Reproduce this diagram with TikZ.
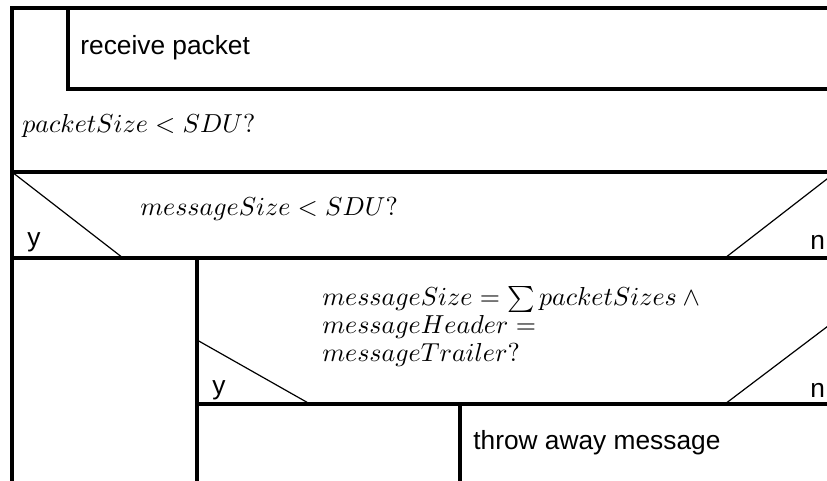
\documentclass[tikz,border=0pt]{standalone}
\usepackage[no-math]{fontspec}
\usepackage{graphicx}
\setmainfont{Liberation Sans}
% conditions: 10pt math design, enlarged
\newcommand{\condtext}[1]{\scalebox{1.3}{$#1$}}
\begin{document}
\begin{tikzpicture}[x=0.5pt,y=-0.5pt,
  frame/.style={line width=1.7pt},
  diag/.style={line width=0.6pt},
  lbl/.style={anchor=base west, inner sep=0pt, font=\fontsize{13.15}{16}\selectfont},
  cond/.style={anchor=base west, inner sep=0pt, font=\fontsize{10}{12}\selectfont}]
\useasboundingbox (0,0) rectangle (827,481);
\clip (0,0) rectangle (827,481);
% corner points of the structogram
\coordinate (tl) at (12,8);
\coordinate (tr) at (845,8);
\coordinate (bl) at (12,490);
% outer block
\draw[frame] (bl) -- (tl) -- (tr);
% receive packet block
\coordinate (rtl) at (68,8);
\coordinate (rbl) at (68,89);
\coordinate (rbr) at (845,89);
\draw[frame] (rtl) -- (rbl) -- (rbr);
\node[lbl] (recv) at (80,55) {receive packet};
% loop condition
\node[cond] (loopcond) at (22,133) {\condtext{packetSize < SDU?}};
% first decision
\coordinate (d1tl) at (12,172);
\coordinate (d1tr) at (845,172);
\coordinate (d1bl) at (12,258);
\coordinate (d1br) at (845,258);
\coordinate (d1y) at (123,258);
\coordinate (d1n) at (725,258);
\coordinate (d1r) at (836,172);
\draw[frame] (d1tl) -- (d1tr);
\draw[frame] (d1bl) -- (d1br);
\draw[diag] (d1tl) -- (d1y);
\draw[diag] (d1r) -- (d1n);
\node[cond] (cond1) at (140,216) {\condtext{messageSize < SDU?}};
\node[lbl] (y1) at (27,247) {y};
\node[lbl] (n1) at (810,250) {n};
% no-branch: second decision
\coordinate (d2tl) at (197,258);
\coordinate (d2bl) at (197,490);
\coordinate (d2l) at (197,340);
\coordinate (d2y) at (310,404);
\coordinate (d2n) at (725,404);
\coordinate (d2r) at (836,320);
\coordinate (d2bb) at (197,404);
\coordinate (d2br) at (845,404);
\draw[frame] (d2tl) -- (d2bl);
\draw[frame] (d2bb) -- (d2br);
\draw[diag] (d2l) -- (d2y);
\draw[diag] (d2r) -- (d2n);
\node[cond] (cond2a) at (322,306) {\condtext{messageSize = \sum packetSizes \wedge{}}};
\node[cond] (cond2b) at (322,334) {\condtext{messageHeader =}};
\node[cond] (cond2c) at (322,362) {\condtext{messageTrailer?}};
\node[lbl] (y2) at (212,395) {y};
\node[lbl] (n2) at (810,398) {n};
% throw away branch
\coordinate (tat) at (460,404);
\coordinate (tab) at (460,490);
\draw[frame] (tat) -- (tab);
\node[lbl] (throw) at (473,450) {throw away message};
\end{tikzpicture}
\end{document}
